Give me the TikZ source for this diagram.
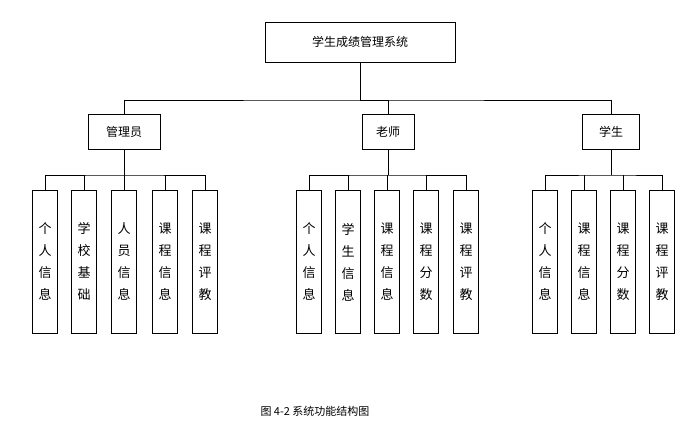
\documentclass[tikz,border=0pt]{standalone}
\usepackage{fontspec}
\newfontfamily\cjk{Noto Sans CJK SC}
\begin{document}
\begin{tikzpicture}[x=1pt,y=-1pt,
  box/.style={draw,line width=0.8pt,inner sep=0pt,font=\cjk\fontsize{12}{14}\selectfont},
  leaf/.style={draw,line width=0.8pt,minimum width=25pt,minimum height=143pt,inner sep=0pt,anchor=north,font=\cjk\fontsize{13}{22}\selectfont,align=center},
  ln/.style={line width=0.8pt}]
\useasboundingbox (0,0) rectangle (699,431);
\node[box,minimum width=190pt,minimum height=40pt] (root) at (360,42) {学生成绩管理系统};
\node[box,minimum width=72pt,minimum height=35pt] (a) at (124,132) {管理员};
\node[box,minimum width=52pt,minimum height=35pt] (b) at (388,132) {老师};
\node[box,minimum width=57pt,minimum height=35pt] (c) at (611,132) {学生};
\coordinate (h) at (360,100);
\draw[ln] (root.south) -- (h);
\draw[ln] (a.north) |- (h) -| (c.north);
\draw[ln] (h) -| (b.north);
% leaves
\foreach \n/\x/\t in {a1/45/个\\人\\信\\息, a2/84/学\\校\\基\\础, a3/124/人\\员\\信\\息, a4/165/课\\程\\信\\息, a5/205/课\\程\\评\\教,
  b1/309/个\\人\\信\\息, b2/348/学\\生\\信\\息, b3/387/课\\程\\信\\息, b4/426/课\\程\\分\\数, b5/466/课\\程\\评\\教,
  c1/545/个\\人\\信\\息, c2/584/课\\程\\信\\息, c3/623/课\\程\\分\\数, c4/662/课\\程\\评\\教}
  \node[leaf] (\n) at (\x,190) {\t};
\draw[ln] (a.south) -- (124,175);
\draw[ln] (a1.north) |- (124,175) -| (a5.north);
\foreach \n in {a2,a3,a4} \draw[ln] (\n.north) -- ++(0,-15);
\draw[ln] (b.south) -- (388,175);
\draw[ln] (b1.north) |- (388,175) -| (b5.north);
\foreach \n in {b2,b3,b4} \draw[ln] (\n.north) -- ++(0,-15);
\draw[ln] (c.south) -- (611,175);
\draw[ln] (c1.north) |- (611,175) -| (c4.north);
\foreach \n in {c2,c3} \draw[ln] (\n.north) -- ++(0,-15);
\node[font=\cjk\fontsize{11}{13}\selectfont] (cap) at (315,411) {图 4-2 系统功能结构图};
\end{tikzpicture}
\end{document}
